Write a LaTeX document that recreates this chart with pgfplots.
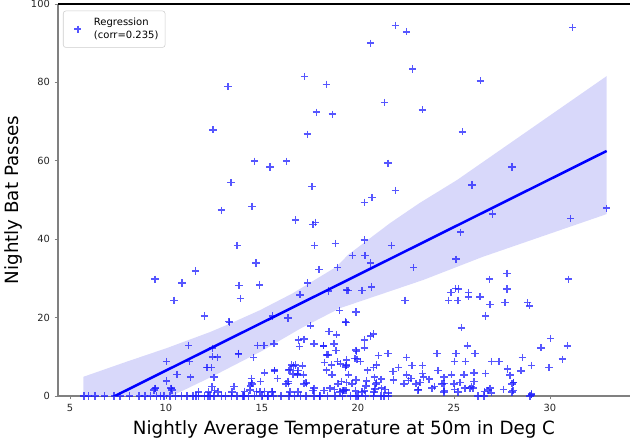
\documentclass[border=0pt]{standalone}
\usepackage{fontspec}
\setmainfont{DejaVu Sans}
\usepackage{pgfplots}
\pgfplotsset{compat=1.18}
\definecolor{band}{RGB}{216,216,250}
\definecolor{mk}{RGB}{30,30,255}
\definecolor{spine}{RGB}{128,128,128}
\begin{document}
\begin{tikzpicture}
\begin{axis}[
  scale only axis, width=429pt, height=294pt,
  xmin=4.375, xmax=34.167, ymin=0, ymax=100,
  axis lines=left, axis line style={-, spine, line width=0.9pt},
  xtick={5,10,...,30}, ytick={0,20,...,100},
  tick align=outside, major tick length=2.6pt,
  tick style={spine, line width=0.7pt},
  ticklabel style={font=\fontsize{7.4}{8}\selectfont, text=black!85},
  /pgf/number format/assume math mode=true,
  xlabel={Nightly Average Temperature at 50m in Deg C},
  ylabel={Nightly Bat Passes},
  label style={font=\fontsize{13.7}{16}\selectfont},
  clip mode=individual,
  legend style={at={(0,1)}, anchor=north west, xshift=3.75pt, yshift=-5pt,
    draw={rgb,255:red,204;green,204;blue,204}, rounded corners=2pt,
    font=\fontsize{7.5}{10.2}\selectfont, cells={align=left},
    inner xsep=3pt, inner ysep=3pt},
  legend cell align=left,
]
% confidence band
\addplot[fill=band, draw=none, forget plot] coordinates {
 (5.7,4.9) (7.95,8.75) (10.03,12.2) (12.29,16.3) (13.4,18.6) (14.9,21.9) (16.6,26.2)
 (18.89,33.0) (19.48,36.0) (21.67,44.1) (23.2,49.2) (25.16,55.1) (32.95,81.6)
 (32.95,46.4) (26.5,35.5) (23.4,29.6) (19.06,22.4) (17,17.2) (15,11.5) (12.5,5.2)
 (10.3,0) (8,-6) (5.7,-14)} -- cycle;
% scatter
\addplot[only marks, mark=+, mark size=2.7pt, mark options={mk, line width=1.1pt, opacity=0.75},
  legend image code/.code={\path (0cm,0cm) (0.62cm,0cm); \path plot[mark=+, mark size=2.7pt, mark options={mk, line width=1.1pt, opacity=0.75}] coordinates {(0.27cm,0cm)};}] table {
x y
13.23 78.9
17.22 81.5
18.35 79.5
17.83 72.4
18.66 71.9
12.45 67.9
17.36 66.8
14.62 59.9
15.42 58.4
16.29 59.9
13.39 54.4
17.60 53.4
21.94 94.5
22.53 92.9
20.66 90.0
31.18 94.0
22.85 83.4
26.37 80.4
21.39 74.9
23.35 73.0
25.43 67.4
21.56 59.4
28.02 58.4
25.94 53.8
21.94 52.4
20.73 50.6
20.33 49.4
32.95 47.9
31.08 45.3
30.95 29.8
12.88 47.4
14.48 48.4
16.75 44.9
17.66 43.8
17.80 44.3
13.71 38.4
17.73 38.4
18.82 38.9
14.69 33.9
11.53 31.9
9.43 29.8
10.83 28.8
13.80 28.2
14.88 28.3
17.97 32.3
18.92 32.8
10.42 24.4
13.87 24.9
17.38 28.8
16.98 25.8
18.47 26.8
19.41 27.0
12.01 20.4
13.30 18.8
15.54 20.4
16.35 19.9
17.54 17.9
19.05 21.8
19.36 18.9
27.01 46.4
20.33 39.8
21.75 38.4
25.35 41.8
19.70 35.8
20.36 35.8
20.66 33.9
25.10 34.9
22.90 32.8
19.48 26.9
20.21 26.9
20.71 27.8
26.84 29.8
27.76 31.3
27.76 27.3
22.45 24.4
24.84 26.4
25.09 27.4
25.24 27.3
25.75 26.4
25.75 25.3
26.35 25.3
24.72 24.4
25.20 24.4
26.88 23.3
27.66 23.8
28.84 23.8
28.94 23.0
26.65 20.4
19.90 21.4
19.38 18.8
25.40 17.4
30.04 14.7
30.90 12.8
29.53 12.3
30.64 9.4
29.95 7.2
28.56 9.8
29.03 7.8
28.49 6.4
28.11 3.5
28.07 1.4
29.03 0.3
27.57 1.7
25.69 12.8
26.09 10.8
25.10 10.8
24.11 10.8
26.96 8.8
27.34 8.8
27.78 6.9
27.92 5.3
26.65 5.8
25.60 8.8
25.02 8.8
22.54 9.8
21.56 10.8
21.06 10.3
13.28 19.0
11.18 12.9
10.03 8.8
11.23 8.8
12.41 12.2
12.67 9.9
13.78 10.9
14.76 12.9
15.10 12.9
15.63 13.3
14.57 9.8
10.57 5.5
11.28 4.8
10.03 3.8
12.15 7.2
12.36 7.2
9.43 1.9
10.28 1.9
12.40 2.4
12.54 1.4
11.70 1.0
12.20 1.0
14.44 4.5
14.44 3.5
14.40 2.6
15.14 5.9
15.66 6.4
15.80 4.4
14.93 3.7
14.09 1.2
14.70 1.2
15.13 1.2
15.56 1.2
16.53 7.9
16.74 7.9
16.39 6.6
16.88 6.5
16.61 5.6
16.84 5.6
16.35 3.7
17.30 3.4
17.66 1.4
18.23 1.4
16.96 12.6
17.19 14.5
17.71 13.3
18.21 12.8
18.44 10.5
18.75 13.3
18.87 15.6
18.49 16.4
18.26 8.5
18.35 6.6
18.61 7.9
18.92 8.8
19.10 8.2
18.65 5.4
19.34 7.3
19.41 9.2
19.13 3.7
18.79 1.7
19.22 1.3
19.39 3.4
20.33 14.3
20.66 15.3
20.80 15.8
20.33 12.3
19.91 11.3
19.84 9.6
19.96 9.4
20.14 8.8
22.81 7.8
23.35 7.8
22.11 7.3
21.82 6.2
26.04 5.9
25.52 5.4
24.86 5.4
24.48 4.8
24.17 6.5
23.37 5.8
23.40 4.8
23.23 3.4
23.71 4.3
23.14 1.7
23.99 2.4
24.48 3.2
24.49 1.4
22.54 5.4
22.64 3.9
22.76 4.4
21.84 4.1
21.21 4.3
20.85 4.8
20.95 3.5
21.23 2.0
20.89 1.8
21.41 1.7
21.58 0.8
20.35 1.3
20.42 2.6
20.45 3.8
20.50 6.6
20.80 7.2
20.95 7.9
19.41 7.9
19.50 5.4
19.27 1.5
19.86 1.3
19.90 4.1
26.58 1.1
26.88 2.0
26.96 0.8
28.09 3.4
29.04 0.5
25.31 3.4
25.02 1.7
25.57 2.0
25.92 2.4
26.04 3.7
26.00 2.0
9.38 1.5
10.31 1.5
12.71 1.0
13.44 1.0
14.48 3.1
14.38 1.5
14.90 1.0
15.52 1.0
16.25 3.1
16.46 1.0
16.88 1.0
17.19 3.1
18.54 2.0
18.96 3.1
19.06 1.0
19.38 1.5
19.69 3.1
20.21 1.0
20.83 1.0
20.94 3.1
22.40 3.1
23.02 3.1
23.13 1.5
23.85 2.0
24.38 3.1
24.48 1.0
25.00 3.1
25.21 1.0
25.83 2.0
26.77 1.5
28.02 3.1
28.02 1.0
28.96 0
12.41 10.0
12.12 7.3
12.50 4.8
13.54 2.4
13.78 10.7
15.64 6.6
16.37 3.2
16.46 6.8
16.63 7.7
17.10 7.7
16.86 5.4
17.15 5.4
16.89 14.3
17.33 3.2
17.71 2.0
18.20 12.8
18.37 10.5
18.85 11.6
19.90 11.7
19.38 7.7
9.46 2.0
10.26 2.0
5.73 0
5.95 0
6.30 0
6.80 0
7.30 0
7.60 0
8.10 0
8.60 0
8.90 0
9.20 0
9.50 0
9.70 0
9.90 0
10.20 0
10.50 0
10.80 0
11.10 0
11.40 0
11.70 0
12.00 0
12.30 0
12.50 0
12.90 0
13.10 0
13.40 0
13.70 0
14.00 0
14.30 0
14.60 0
15.00 0
15.30 0
15.60 0
16.00 0
16.40 0
16.70 0
17.00 0
17.30 0
17.70 0
18.00 0
18.40 0
18.80 0
19.20 0
19.60 0
20.00 0
20.40 0
20.80 0
21.20 0
21.60 0
11.56 0
12.19 0
14.06 0
15.31 0
18.02 0
19.90 0
21.35 0
26.25 0
26.56 0
};
\addlegendentry{Regression\\(corr=0.235)}
% regression line
\addplot[blue, line width=1.9pt, forget plot] coordinates {(5.7,-4.0) (32.95,62.5)};
\draw[black, line width=0.9pt] (rel axis cs:0,1) -- (rel axis cs:1,1);
\end{axis}
\pgfresetboundingbox
\path[use as bounding box] ([xshift=-43.5pt,yshift=-36pt]current axis.south west) rectangle ([yshift=3pt]current axis.north east);
\end{tikzpicture}
\end{document}
